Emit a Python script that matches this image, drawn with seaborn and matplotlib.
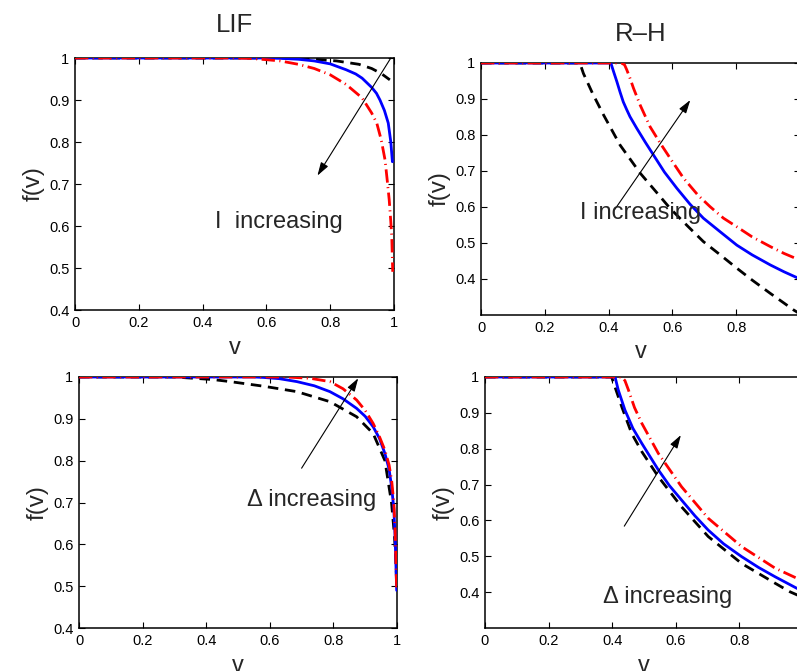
import matplotlib
matplotlib.use("Agg")
import matplotlib.pyplot as plt
import seaborn as sns

# ---------------- data ----------------
# Top-left: LIF, I increasing
lif_i_black_v = [0, 0.70, 0.75, 0.82, 0.89, 0.93, 0.96, 0.987]
lif_i_black_f = [1, 1, 0.997, 0.993, 0.985, 0.975, 0.963, 0.948]
lif_i_blue_v = [0, 0.60, 0.65, 0.70, 0.75, 0.80, 0.85, 0.88, 0.90, 0.93, 0.945, 0.956, 0.97, 0.982, 0.99, 0.995]
lif_i_blue_f = [1, 1, 0.999, 0.997, 0.993, 0.986, 0.972, 0.962, 0.952, 0.93, 0.916, 0.90, 0.875, 0.845, 0.80, 0.753]
lif_i_red_v = [0, 0.50, 0.55, 0.60, 0.643, 0.70, 0.75, 0.80, 0.85, 0.90, 0.93, 0.946, 0.96, 0.972, 0.98, 0.985, 0.99, 0.993, 0.996]
lif_i_red_f = [1, 1, 0.999, 0.996, 0.993, 0.985, 0.975, 0.96, 0.937, 0.905, 0.869, 0.845, 0.805, 0.757, 0.70, 0.662, 0.61, 0.575, 0.491]

# Top-right: R-H, I increasing
rh_i_black_v = [0, 0.31, 0.321, 0.35, 0.384, 0.436, 0.499, 0.55, 0.593, 0.65, 0.697, 0.75, 0.802, 0.85, 0.907, 0.95, 0.98, 1.0]
rh_i_black_f = [1, 1, 0.971, 0.915, 0.856, 0.772, 0.694, 0.641, 0.596, 0.545, 0.504, 0.467, 0.430, 0.397, 0.360, 0.333, 0.314, 0.303]
rh_i_blue_v = [0, 0.407, 0.416, 0.426, 0.436, 0.446, 0.457, 0.467, 0.488, 0.515, 0.541, 0.575, 0.614, 0.655, 0.697, 0.75, 0.802, 0.85, 0.907, 0.95, 0.99, 1.0]
rh_i_blue_f = [1, 1, 0.975, 0.948, 0.919, 0.892, 0.870, 0.851, 0.819, 0.780, 0.744, 0.697, 0.652, 0.608, 0.569, 0.531, 0.494, 0.467, 0.439, 0.42, 0.404, 0.40]
rh_i_red_v = [0, 0.44, 0.45, 0.457, 0.467, 0.478, 0.499, 0.530, 0.562, 0.60, 0.635, 0.68, 0.718, 0.76, 0.802, 0.85, 0.907, 0.95, 0.99, 1.0]
rh_i_red_f = [1, 1, 0.995, 0.981, 0.958, 0.93, 0.883, 0.823, 0.777, 0.726, 0.680, 0.633, 0.601, 0.569, 0.545, 0.517, 0.490, 0.471, 0.456, 0.453]

# Bottom-left: LIF, Delta increasing
lif_d_black_v = [0, 0.30, 0.42, 0.475, 0.58, 0.685, 0.789, 0.873, 0.925, 0.962, 0.983, 0.992, 0.997, 0.999]
lif_d_black_f = [1, 1, 0.994, 0.989, 0.978, 0.965, 0.941, 0.905, 0.865, 0.80, 0.698, 0.62, 0.55, 0.50]
lif_d_blue_v = [0, 0.55, 0.58, 0.63, 0.685, 0.74, 0.789, 0.83, 0.873, 0.90, 0.925, 0.945, 0.962, 0.975, 0.983, 0.99, 0.994, 0.999]
lif_d_blue_f = [1, 1, 0.999, 0.996, 0.989, 0.979, 0.965, 0.948, 0.925, 0.906, 0.881, 0.853, 0.817, 0.78, 0.738, 0.685, 0.618, 0.49]
lif_d_red_v = [0, 0.65, 0.726, 0.789, 0.83, 0.873, 0.90, 0.925, 0.945, 0.962, 0.975, 0.983, 0.99, 0.994, 0.999]
lif_d_red_f = [1, 1, 0.997, 0.989, 0.972, 0.945, 0.92, 0.889, 0.857, 0.825, 0.79, 0.754, 0.70, 0.634, 0.49]

# Bottom-right: R-H, Delta increasing
rh_d_black_v = [0, 0.398, 0.43, 0.461, 0.493, 0.545, 0.618, 0.702, 0.807, 0.912, 0.959, 1.0]
rh_d_black_f = [1, 1, 0.917, 0.843, 0.792, 0.722, 0.638, 0.555, 0.480, 0.425, 0.401, 0.385]
rh_d_blue_v = [0, 0.409, 0.419, 0.44, 0.465, 0.493, 0.545, 0.58, 0.618, 0.66, 0.702, 0.75, 0.807, 0.86, 0.912, 0.98, 1.0]
rh_d_blue_f = [1, 1, 0.964, 0.908, 0.857, 0.815, 0.741, 0.697, 0.657, 0.613, 0.573, 0.535, 0.499, 0.469, 0.443, 0.411, 0.403]
rh_d_red_v = [0, 0.43, 0.44, 0.451, 0.47, 0.493, 0.545, 0.618, 0.702, 0.807, 0.912, 0.98, 1.0]
rh_d_red_f = [1, 1, 0.99, 0.964, 0.915, 0.871, 0.787, 0.694, 0.606, 0.527, 0.467, 0.439, 0.432]

titles = ["LIF", "R\u2013H"]
x_ticks = [0, 0.2, 0.4, 0.6, 0.8, 1.0]
x_ticklabels = ["0", "0.2", "0.4", "0.6", "0.8", "1"]
y_ticks = [0.4, 0.5, 0.6, 0.7, 0.8, 0.9, 1.0]
y_ticklabels = ["0.4", "0.5", "0.6", "0.7", "0.8", "0.9", "1"]

# ---------------- style ----------------
sns.set_style("ticks")
plt.rcParams["font.family"] = ["Liberation Sans", "DejaVu Sans"]
plt.rcParams["xtick.direction"] = "in"
plt.rcParams["ytick.direction"] = "in"
plt.rcParams["xtick.top"] = True
plt.rcParams["ytick.right"] = True
plt.rcParams["axes.linewidth"] = 1.1
plt.rcParams["axes.edgecolor"] = "black"

W, H = 797, 671
fig = plt.figure(figsize=(W / 100, H / 100), dpi=100)


def px_axes(left, right, top, bottom):
    return fig.add_axes([left / W, 1 - bottom / H, (right - left) / W, (bottom - top) / H])


axes = [
    px_axes(75, 394, 58, 310),
    px_axes(481, 800, 63, 315),
    px_axes(79, 397, 377, 628),
    px_axes(485, 803, 377, 628),
]

panels = [
    (lif_i_black_v, lif_i_black_f, lif_i_blue_v, lif_i_blue_f, lif_i_red_v, lif_i_red_f),
    (rh_i_black_v, rh_i_black_f, rh_i_blue_v, rh_i_blue_f, rh_i_red_v, rh_i_red_f),
    (lif_d_black_v, lif_d_black_f, lif_d_blue_v, lif_d_blue_f, lif_d_red_v, lif_d_red_f),
    (rh_d_black_v, rh_d_black_f, rh_d_blue_v, rh_d_blue_f, rh_d_red_v, rh_d_red_f),
]
ylims = [(0.4, 1.0), (0.3, 1.0), (0.4, 1.0), (0.3, 1.0)]

texts = [
    ("I  increasing", 0.439, 0.61),
    ("I increasing", 0.311, 0.583),
    ("\u0394 increasing", 0.527, 0.706),
    ("\u0394 increasing", 0.372, 0.387),
]
arrows = [
    ((0.99, 1.0), (0.76, 0.72)),
    ((0.42, 0.594), (0.656, 0.897)),
    ((0.70, 0.782), (0.878, 0.997)),
    ((0.438, 0.584), (0.616, 0.838)),
]

for i, ax in enumerate(axes):
    bv, bf, uv, uf, rv, rf = panels[i]
    sns.lineplot(x=uv, y=uf, ax=ax, color="#0000ff", lw=2.0, sort=False, zorder=3)
    sns.lineplot(x=bv, y=bf, ax=ax, color="black", lw=2.0, sort=False, zorder=2,
                 linestyle=(0, (3.8, 2.4)))
    sns.lineplot(x=rv, y=rf, ax=ax, color="#ff0000", lw=2.0, sort=False, zorder=4,
                 linestyle=(0, (4.8, 1.6, 0.4, 1.6)))
    ax.set_xlim(0, 1)
    ax.set_ylim(*ylims[i])
    ax.set_xticks(x_ticks)
    # the right-hand panels are cut at the figure edge: their "1" label is not visible
    labels = list(x_ticklabels) if i % 2 == 0 else list(x_ticklabels[:-1]) + [""]
    ax.set_xticklabels(labels)
    ax.set_yticks(y_ticks)
    ax.set_yticklabels(y_ticklabels)
    ax.tick_params(labelsize=10.5, length=4, width=0.8, pad=4, colors="black")
    ax.set_xlabel("v", fontsize=17, labelpad=5)
    ax.set_ylabel("f(v)", fontsize=17.5, labelpad=3)
    for s in ax.spines.values():
        s.set_visible(True)
        s.set_color("black")
    t, tx, ty = texts[i]
    ax.text(tx, ty, t, fontsize=17, ha="left", va="center", zorder=6)
    (x0, y0), (x1, y1) = arrows[i]
    ax.annotate("", xy=(x1, y1), xytext=(x0, y0), zorder=5,
                arrowprops=dict(arrowstyle="-|>,head_length=0.8,head_width=0.25",
                                color="black", lw=0.8, shrinkA=0, shrinkB=0))

axes[0].set_title(titles[0], fontsize=18.5, pad=19)
axes[1].set_title(titles[1], fontsize=18.5, pad=16)

fig.savefig("out.png", dpi=100)
